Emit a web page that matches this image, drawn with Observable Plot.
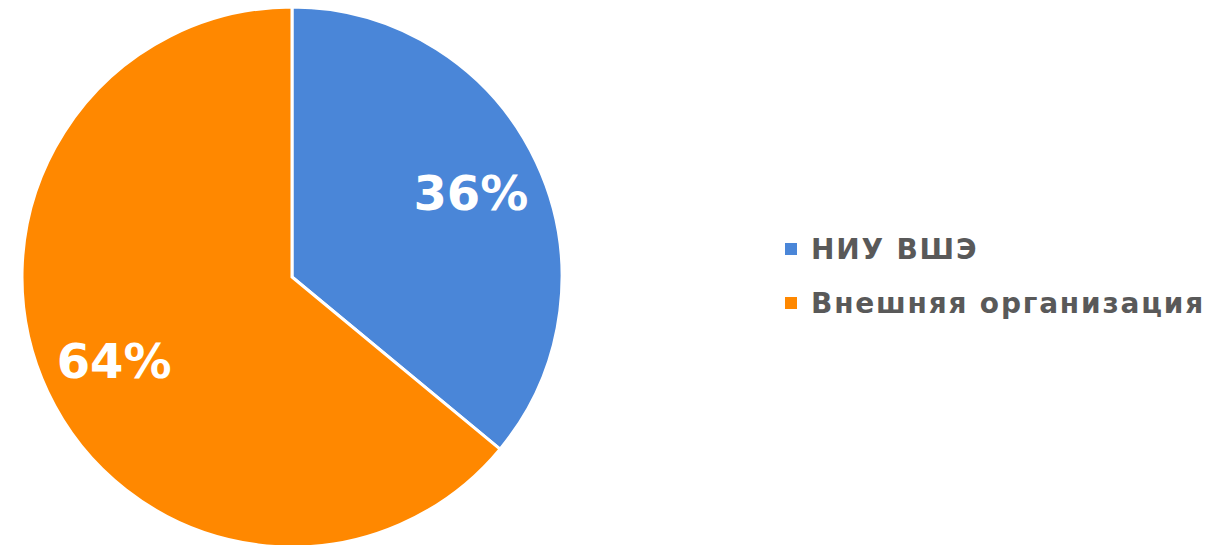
<!DOCTYPE html>
<html>
<head>
<meta charset="utf-8">
<script src="https://cdn.jsdelivr.net/npm/d3@7"></script>
<script src="https://cdn.jsdelivr.net/npm/@observablehq/plot@0.6"></script>
<style>
  html, body { margin: 0; padding: 0; background: #fff; }
  #wrap { position: relative; width: 1225px; height: 545px; overflow: hidden; }
  #legend { position: absolute; left: 785px; top: 222px; font-family: "DejaVu Sans", sans-serif; font-weight: 700; font-size: 28px; letter-spacing: 1.8px; color: #595959; }
  .item { display: flex; align-items: center; height: 54px; }
  .sw { width: 12px; height: 12px; margin-right: 14px; flex: none; }
</style>
</head>
<body>
<div id="wrap"><div id="legend"></div></div>
<script>
const categories = ["НИУ ВШЭ", "Внешняя организация"];
const values = [36, 64];
const labels = ["36%", "64%"];
const colors = ["#4A86D8", "#FF8800"];

const data = categories.map((c, i) => ({category: c, value: values[i], label: labels[i]}));
const arcs = d3.pie().value(d => d.value).sort(null)(data);
const labelR = 0.73;
const labelData = arcs.map(a => {
  const mid = (a.startAngle + a.endAngle) / 2;
  return {label: a.data.label, x: labelR * Math.sin(mid), y: labelR * Math.cos(mid)};
});

function pieMark(index, scales, values, dimensions, context) {
  const cx = scales.x(0), cy = scales.y(0);
  const r = scales.x(1) - scales.x(0);
  const arc = d3.arc().innerRadius(0).outerRadius(r);
  const g = d3.create("svg:g").attr("transform", `translate(${cx},${cy})`);
  g.selectAll("path").data(arcs).join("path")
    .attr("d", arc)
    .attr("fill", d => scales.color(d.data.category))
    .attr("stroke", "#fff")
    .attr("stroke-width", 3)
    .attr("stroke-linejoin", "miter");
  return g.node();
}

const chart = Plot.plot({
  width: 1225,
  height: 545,
  margin: 0,
  x: {domain: [-1, 1], range: [22, 562], axis: null},
  y: {domain: [-1, 1], range: [547, 7], axis: null},
  color: {domain: categories, range: colors},
  marks: [
    pieMark,
    Plot.text(labelData, {x: "x", y: "y", text: "label", fill: "#fff",
      fontSize: 48, fontWeight: 700, fontFamily: "DejaVu Sans", dy: 1})
  ]
});
document.getElementById("wrap").prepend(chart);

const legend = document.getElementById("legend");
categories.forEach((c, i) => {
  const it = document.createElement("div");
  it.className = "item";
  const sw = document.createElement("div");
  sw.className = "sw";
  sw.style.background = colors[i];
  const t = document.createElement("span");
  t.textContent = c;
  it.appendChild(sw); it.appendChild(t);
  legend.appendChild(it);
});
</script>
</body>
</html>
